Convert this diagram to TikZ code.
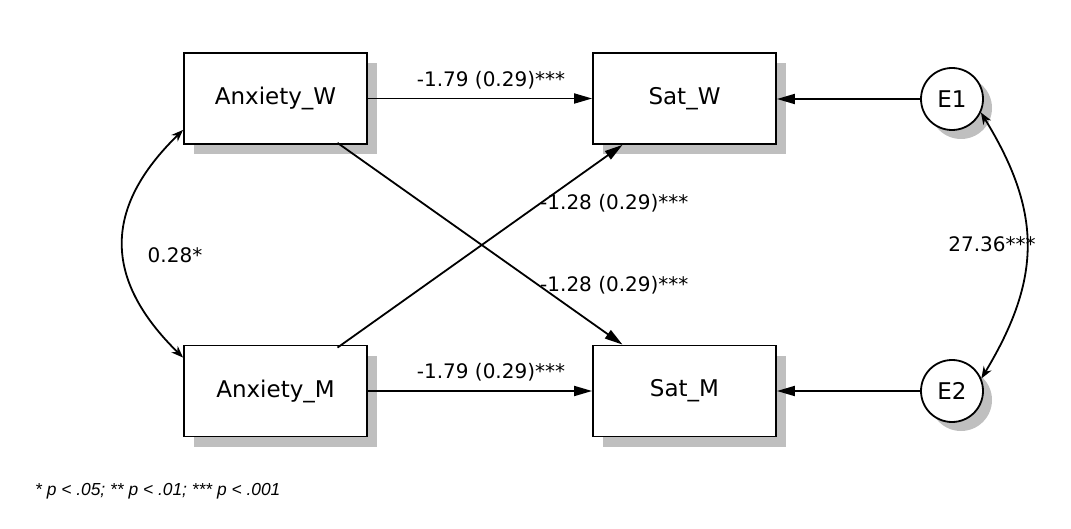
\documentclass[tikz,border=0pt]{standalone}
\usepackage{fontspec}
\setmainfont{DejaVu Sans}
\newfontfamily\footfont{Liberation Sans}
\usetikzlibrary{arrows.meta,shadows,calc}
\begin{document}
\begin{tikzpicture}[x=1pt,y=-1pt,
  boxnode/.style={draw,line width=1.8pt,fill=white,minimum width=183pt,minimum height=91pt,inner sep=0pt,
    font=\fontsize{23}{27}\selectfont,
    drop shadow={shadow xshift=10pt,shadow yshift=-10pt,fill=black!25,opacity=1}},
  errnode/.style={draw,circle,line width=1.8pt,fill=white,minimum size=62pt,inner sep=0pt,
    font=\fontsize{23}{27}\selectfont,
    drop shadow={shadow xshift=9pt,shadow yshift=-9pt,fill=black!25,opacity=1}},
  regpath/.style={line width=1.8pt,-{Triangle[length=18pt,width=10pt]}},
  covpath/.style={line width=1.8pt,{Stealth[length=12pt,width=9pt]}-{Stealth[length=12pt,width=9pt]}},
  lab/.style={font=\fontsize{20}{24}\selectfont,inner sep=0pt}
]
\useasboundingbox (0,0) rectangle (1071,529);
\node[boxnode] (AW) at (275.5,98.5) {Anxiety\_W};
\node[boxnode] (SW) at (684.5,98.5) {Sat\_W};
\node[boxnode] (AM) at (275.5,391) {Anxiety\_M};
\node[boxnode] (SM) at (684.5,391) {Sat\_M};
\node[errnode] (E1) at (952,99) {E1};
\node[errnode] (E2) at (952,391) {E2};

\draw[regpath] (AW.east) -- (SW.west);
\draw[regpath] (AM.east) -- (SM.west);
\draw[regpath] ([xshift=62pt,yshift=2pt]AW.south) -- ([xshift=-62pt]SM.north);
\draw[regpath] ([xshift=62pt,yshift=-3pt]AM.north) -- ([xshift=-62pt]SW.south);
\draw[regpath] (E1.west) -- (E1.west -| SW.east);
\draw[regpath] (E2.west) -- (E2.west -| SM.east);

\draw[covpath] ([yshift=15pt]AW.south west) .. controls (103,208) and (103,279) .. ([yshift=-13pt]AM.north west);
\draw[covpath] (E1.-25) .. controls (1042,212) and (1042,278) .. (E2.23);

\node[lab] (l1) at (491,80) {-1.79 (0.29)***};
\node[lab] (l2) at (491,372) {-1.79 (0.29)***};
\node[lab,anchor=west] (l3) at (540,203) {-1.28 (0.29)***};
\node[lab,anchor=west] (l4) at (540,285) {-1.28 (0.29)***};
\node[lab] (l5) at (175,255) {0.28*};
\node[lab] (l6) at (992,244) {27.36***};

\node[anchor=west,inner sep=0pt,font=\footfont\itshape\fontsize{17.4}{20}\selectfont] (fn) at (35,491) {* p < .05; ** p < .01; *** p < .001};
\end{tikzpicture}
\end{document}
